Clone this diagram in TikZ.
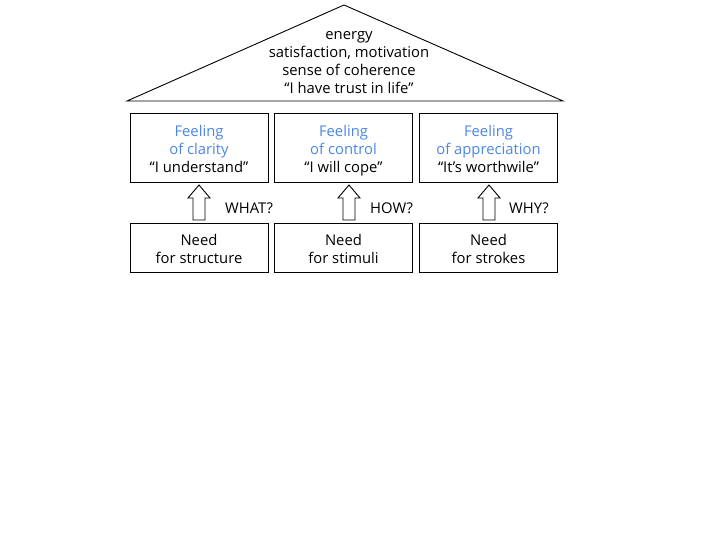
\documentclass[tikz,border=0pt]{standalone}
\usepackage{fontspec}
\setmainfont{Open Sans}
\definecolor{feelblue}{RGB}{74,134,232}
\newcommand{\dnstrut}{\rule{0pt}{19.6pt}}
\begin{document}
\begin{tikzpicture}[x=1pt,y=-1pt,
  every node/.style={font=\fontsize{14.8}{18}\selectfont, align=center, inner sep=0pt},
  topbox/.style={draw, line width=0.9pt, minimum width=138pt, minimum height=69pt},
  needbox/.style={draw, line width=0.9pt, minimum width=138pt, minimum height=49pt},
  blockarrow/.style={draw, line width=0.9pt, fill=white},
  feel/.style={text=feelblue}]
\useasboundingbox (0,0) rectangle (720,540);
% roof
\coordinate (apex) at (344,5);
\coordinate (bl) at (127,101);
\coordinate (br) at (563,101);
\draw[line width=0.9pt] (bl) -- (apex) -- (br) -- cycle;
\node (roof) at (349,63) {\strut energy\\\strut satisfaction, motivation\\\strut sense of coherence\\\strut “I have trust in life”};
% top boxes
\node[topbox] (f1) at (199,147.5) {\dnstrut\textcolor{feelblue}{Feeling}\\\strut\textcolor{feelblue}{of clarity}\\\strut “I understand”};
\node[topbox] (f2) at (343.5,147.5) {\dnstrut\textcolor{feelblue}{Feeling}\\\strut\textcolor{feelblue}{of control}\\\strut “I will cope”};
\node[topbox] (f3) at (488.5,147.5) {\dnstrut\textcolor{feelblue}{Feeling}\\\strut\textcolor{feelblue}{of appreciation}\\\strut “It’s worthwile”};
% need boxes
\node[needbox] (n1) at (199,247.5) {\dnstrut Need\\\strut for structure};
\node[needbox] (n2) at (343.5,247.5) {\dnstrut Need\\\strut for stimuli};
\node[needbox] (n3) at (488.5,247.5) {\dnstrut Need\\\strut for strokes};
% block arrows
\foreach \cx/\nm in {199/a1, 349/a2, 489/a3}{
  \draw[blockarrow] (\cx-6,220) -- (\cx-6,198) -- (\cx-11,198) -- (\cx,185) -- (\cx+11,198) -- (\cx+6,198) -- (\cx+6,220) -- cycle;
}
% labels
\node[anchor=west] (q1) at (225,210) {\strut WHAT?};
\node[anchor=west] (q2) at (370,210) {\strut HOW?};
\node[anchor=west] (q3) at (509,210) {\strut WHY?};
\end{tikzpicture}
\end{document}
